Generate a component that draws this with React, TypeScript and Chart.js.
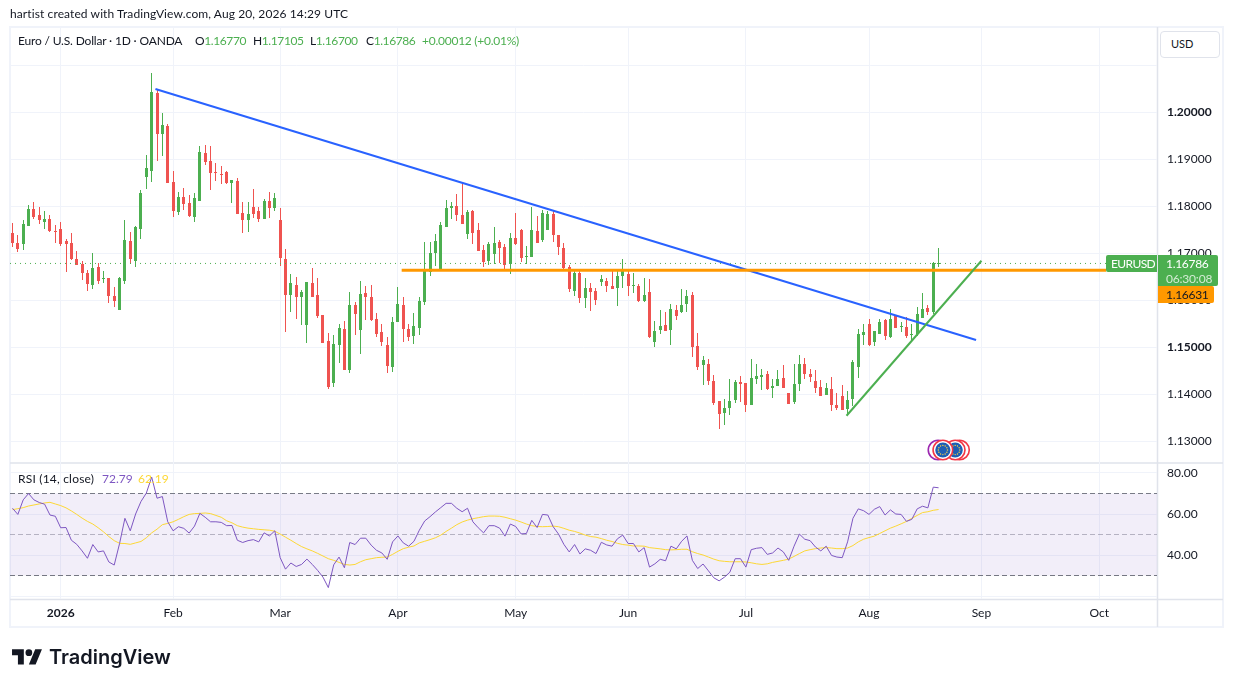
import React, { useEffect, useRef } from "react";
import { Chart, registerables } from "chart.js";

Chart.register(...registerables);

const opens = [
  1.17425,1.17213,1.17191,1.17574,1.17936,1.17808,1.17659,1.17723,1.17468,1.17511,
  1.17255,1.17213,1.16872,1.16766,1.16574,1.16319,1.16702,1.16447,1.16468,1.16085,
  1.15787,1.16404,1.17255,1.1683,1.17511,1.18617,1.18745,1.20404,1.19532,1.19702,
  1.18511,1.17872,1.18191,1.18064,1.17766,1.18106,1.19128,1.18957,1.18723,1.18681,
  1.18723,1.18489,1.18532,1.17851,1.17702,1.17979,1.17894,1.17723,1.18106,1.17957,
  1.17702,1.16872,1.16106,1.16319,1.16064,1.15468,1.16362,1.16106,1.15681,1.15128,
  1.14234,1.15043,1.15383,1.14511,1.15894,1.15362,1.16149,1.16064,1.15596,1.15319,
  1.15043,1.14574,1.15532,1.15894,1.15383,1.15234,1.15404,1.15957,1.16596,1.17,
  1.16638,1.17553,1.17957,1.18,1.17808,1.17404,1.17894,1.17489,1.17064,1.1683,
  1.16979,1.17234,1.17128,1.16766,1.17319,1.17489,1.16915,1.16915,1.17468,1.17277,
  1.17489,1.1783,1.17383,1.17106,1.16702,1.16191,1.16574,1.16043,1.16255,1.16191,
  1.16383,1.16404,1.16298,1.16255,1.16511,1.16553,1.16298,1.16298,1.15979,1.1617,
  1.15106,1.15362,1.15468,1.15362,1.15787,1.15745,1.15915,1.16106,1.15021,1.14617,
  1.14638,1.14277,1.13851,1.13596,1.13702,1.13872,1.14255,1.14234,1.13766,1.14319,
  1.14362,1.14426,1.14128,1.1417,1.1434,1.14021,1.1383,1.14213,1.14638,1.14426,
  1.14277,1.14149,1.13979,1.14106,1.13766,1.13957,1.13681,1.13894,1.14574,1.15255,
  1.15489,1.15106,1.15277,1.15574,1.15213,1.15681,1.15426,1.15426,1.15255,1.15277,
  1.15617,1.1583,1.15745,1.1677,
];
const highs = [
  1.17638,1.17383,1.17702,1.18021,1.18085,1.17979,1.17894,1.17808,1.17596,1.17659,
  1.17298,1.17425,1.17042,1.1683,1.16638,1.17,1.16787,1.16617,1.16468,1.16277,
  1.16489,1.17702,1.17447,1.17574,1.1834,1.19085,1.2083,1.20489,1.19979,1.19745,
  1.18745,1.18298,1.18383,1.18234,1.18277,1.19276,1.19298,1.19276,1.18915,1.18851,
  1.18745,1.18553,1.18596,1.18085,1.18085,1.18362,1.17979,1.18149,1.18298,1.18277,
  1.17957,1.17085,1.16553,1.16489,1.16213,1.16383,1.16681,1.16468,1.15681,1.15298,
  1.15255,1.15489,1.15553,1.1617,1.15957,1.16404,1.16298,1.16319,1.15723,1.15489,
  1.15213,1.15638,1.16277,1.16064,1.15489,1.15723,1.16064,1.17234,1.17234,1.17404,
  1.17659,1.18128,1.18085,1.18255,1.18489,1.17915,1.17915,1.17638,1.1717,1.17234,
  1.17553,1.17277,1.17191,1.17425,1.17851,1.17511,1.17149,1.17979,1.17787,1.17915,
  1.17894,1.17894,1.17383,1.17213,1.16745,1.16617,1.16617,1.16468,1.16362,1.16255,
  1.16532,1.16468,1.16617,1.16617,1.16872,1.1666,1.16574,1.1634,1.16468,1.16447,
  1.15553,1.15787,1.15745,1.15915,1.15894,1.16234,1.16213,1.1617,1.15298,1.14809,
  1.14745,1.14404,1.13851,1.13894,1.14319,1.14298,1.14383,1.14234,1.14745,1.14638,
  1.14532,1.14489,1.14319,1.14511,1.14617,1.14021,1.14638,1.1483,1.14766,1.14532,
  1.14511,1.14298,1.14234,1.14362,1.14021,1.14191,1.14064,1.14723,1.15383,1.15489,
  1.15596,1.1534,1.15596,1.15596,1.15809,1.15681,1.15532,1.15638,1.15489,1.15851,
  1.16149,1.15894,1.16808,1.17105,
];
const lows = [
  1.17135,1.17028,1.17064,1.17574,1.17723,1.17617,1.17511,1.17447,1.17213,1.17149,
  1.16596,1.16851,1.16745,1.16425,1.16191,1.16234,1.1634,1.16362,1.15936,1.15851,
  1.15787,1.1634,1.16766,1.16702,1.17298,1.18362,1.18511,1.18957,1.19064,1.18489,
  1.17766,1.17808,1.17915,1.17766,1.17659,1.18106,1.18872,1.1834,1.18532,1.18468,
  1.18468,1.18064,1.1783,1.17425,1.17447,1.17745,1.17659,1.17723,1.17745,1.17894,
  1.16723,1.15319,1.15745,1.15596,1.15468,1.15085,1.16064,1.15617,1.15085,1.14106,
  1.14149,1.1466,1.14511,1.14447,1.15255,1.14851,1.15574,1.15553,1.15213,1.15021,
  1.14447,1.14468,1.15532,1.15106,1.15128,1.15064,1.15255,1.15894,1.16511,1.16723,
  1.16638,1.17553,1.17723,1.17681,1.17617,1.17298,1.17191,1.17042,1.16702,1.16745,
  1.16766,1.16787,1.16617,1.16553,1.1717,1.16808,1.16766,1.16915,1.17213,1.17234,
  1.17489,1.17234,1.16957,1.1666,1.1617,1.16085,1.15936,1.1583,1.15766,1.15894,
  1.16298,1.1617,1.16234,1.15872,1.16255,1.16085,1.16149,1.15957,1.15957,1.15191,
  1.15,1.15277,1.1534,1.15043,1.15574,1.15723,1.15745,1.14787,1.14511,1.14191,
  1.14191,1.13766,1.13255,1.1334,1.13553,1.13809,1.1383,1.13617,1.13766,1.14213,
  1.14085,1.14085,1.13915,1.1417,1.14128,1.13787,1.13787,1.14064,1.14319,1.14255,
  1.14021,1.13957,1.13979,1.13638,1.1366,1.1366,1.13553,1.13745,1.1434,1.15043,
  1.15021,1.15021,1.15277,1.15149,1.15191,1.15404,1.15319,1.15191,1.15128,1.15234,
  1.15617,1.15681,1.15702,1.167,
];
const closes = [
  1.1722,1.17085,1.17617,1.17936,1.17766,1.17702,1.17723,1.17468,1.17447,1.17191,
  1.17191,1.16872,1.16745,1.16574,1.1634,1.16681,1.16404,1.16468,1.16085,1.15979,
  1.16468,1.17277,1.16872,1.17553,1.18277,1.18808,1.20425,1.19532,1.19723,1.18489,
  1.17894,1.18191,1.18042,1.17787,1.1817,1.19149,1.18936,1.18702,1.18702,1.18659,
  1.18489,1.18553,1.1783,1.17702,1.1783,1.1783,1.17723,1.18106,1.17957,1.1817,
  1.16894,1.16106,1.16362,1.16064,1.1617,1.16383,1.16064,1.1566,1.15085,1.14149,
  1.15064,1.15404,1.14511,1.15894,1.15702,1.16128,1.16064,1.15574,1.15277,1.15106,
  1.14596,1.15532,1.15915,1.15383,1.15213,1.15447,1.15979,1.16638,1.17,1.17255,
  1.17596,1.17957,1.18,1.17808,1.17617,1.17872,1.17425,1.17042,1.16808,1.17191,
  1.17213,1.17106,1.16745,1.17319,1.17191,1.16894,1.16936,1.17489,1.17213,1.17851,
  1.1783,1.17383,1.17128,1.16681,1.16234,1.16574,1.16043,1.16255,1.1617,1.16,
  1.16447,1.16298,1.16234,1.16511,1.16638,1.16298,1.16319,1.15979,1.16106,1.15213,
  1.1534,1.15447,1.1534,1.15809,1.1566,1.15894,1.16085,1.15,1.14574,1.14723,
  1.14277,1.13809,1.13574,1.13702,1.13851,1.14255,1.14213,1.13766,1.1434,1.14383,
  1.14404,1.14106,1.1417,1.14319,1.14128,1.13787,1.14213,1.14638,1.14426,1.14362,
  1.14128,1.13957,1.14128,1.13766,1.13702,1.1366,1.13872,1.14681,1.15277,1.15319,
  1.15043,1.1534,1.15532,1.15234,1.15596,1.15404,1.15447,1.15234,1.15277,1.15702,
  1.15809,1.15745,1.16787,1.16786,
];
const rsiValues = [
  62.8,59.8,66.9,70.0,66.9,65.6,64.8,59.5,58.9,53.3,
  53.4,47.2,45.2,42.0,38.4,45.1,41.5,42.0,36.6,35.1,
  45.6,57.9,51.8,60.0,66.1,70.2,78.0,67.7,68.5,56.2,
  51.8,53.8,53.0,50.7,54.1,60.3,58.4,56.2,56.2,55.9,
  54.3,54.4,47.2,46.1,47.0,47.5,46.4,50.8,49.3,51.8,
  38.7,33.1,36.1,34.4,35.4,38.0,35.4,32.5,29.2,24.1,
  35.2,39.0,33.8,46.1,45.1,48.2,48.2,44.8,42.3,41.0,
  37.9,46.4,49.3,45.9,44.3,46.7,52.1,56.6,58.7,61.0,
  63.1,65.2,65.2,62.8,61.1,62.8,56.2,53.3,50.8,54.3,
  54.3,53.1,49.2,55.1,53.9,50.3,50.5,56.9,53.4,59.8,
  59.5,53.8,50.2,45.2,41.5,45.1,40.5,43.0,42.3,40.7,
  46.2,44.9,44.3,47.9,49.7,45.6,45.6,41.5,43.6,34.1,
  35.7,37.9,37.2,44.3,43.0,46.7,49.3,37.4,33.4,35.6,
  32.3,28.9,27.4,29.2,31.6,38.2,38.2,34.1,42.6,43.3,
  43.6,40.3,41.0,43.4,41.5,37.4,44.3,50.2,47.7,47.0,
  43.9,42.0,44.3,39.8,39.0,38.7,46.4,57.9,62.5,61.6,
  59.8,62.3,63.6,59.5,62.0,60.0,59.8,56.4,57.4,62.5,
  63.8,63.0,73.1,72.79,
];
const rsiMa = [
  62.1,62.6,63.1,63.9,64.4,64.9,65.4,65.7,64.9,64.1,
  63.0,61.5,59.8,58.0,56.4,55.1,53.3,51.3,49.0,47.0,
  45.7,45.6,45.2,45.9,46.6,48.4,50.8,52.6,54.8,55.4,
  56.2,57.4,58.7,59.8,60.2,60.3,60.5,60.2,59.3,58.4,
  56.7,55.7,54.3,53.6,53.1,52.8,52.5,52.3,52.1,51.6,
  50.2,48.7,47.2,45.6,44.1,43.0,42.0,40.8,39.5,38.2,
  37.4,36.4,35.4,35.1,35.4,36.7,37.7,38.2,38.7,38.9,
  39.0,40.3,41.8,43.1,43.8,44.4,45.9,46.7,47.5,48.4,
  49.7,51.5,53.1,54.8,56.1,57.0,57.7,58.2,58.7,59.0,
  59.0,58.9,58.4,57.7,57.0,56.1,55.1,54.3,53.9,53.8,
  53.9,54.1,53.8,53.0,52.1,51.5,50.7,49.7,49.0,48.7,
  48.0,47.2,46.6,45.7,45.1,44.8,44.4,44.4,44.3,43.6,
  43.3,43.0,42.6,42.5,42.6,42.8,42.8,41.6,40.7,40.0,
  39.0,38.0,37.2,36.9,36.7,36.7,36.7,36.6,36.2,35.7,
  35.4,35.7,36.4,36.9,37.4,38.0,39.3,40.7,42.0,42.6,
  43.1,43.4,43.6,43.4,43.1,43.1,43.4,44.6,46.4,47.7,
  48.5,49.2,50.5,51.8,53.1,54.1,55.2,56.4,57.9,59.3,
  60.7,61.1,61.8,62.19,
];

const priceTicks = [1.21, 1.2, 1.19, 1.18, 1.17, 1.16, 1.15, 1.14, 1.13];
const hiddenPriceTicks = [1.21];
const boldPriceTicks = [1.2, 1.15];
const rsiTicks = [80, 60, 40, 20];
const hiddenRsiTicks = [20];
const monthTickIdx = [9, 30, 50, 72, 94, 115, 137, 160, 181, 203];
const monthTickLabels = ["2026", "Feb", "Mar", "Apr", "May", "Jun", "Jul", "Aug", "Sep", "Oct"];

const xMin = -0.467;
const xMax = 213.8;
const priceMin = 1.12532;
const priceMax = 1.21809;
const rsiMin = 18.537;
const rsiMax = 84.878;

const blueTrendX = [26.7, 180];
const blueTrendY = [1.2049, 1.1515];
const greenTrendX = [155.8, 181];
const greenTrendY = [1.13538, 1.16836];
const supportX = [72.7, 204.3];
const supportY = [1.16631, 1.16631];
const lastPriceX = [xMin, 204.3];
const lastPriceY = [1.16778, 1.16778];

const upColor = "#4CAF50";
const downColor = "#EF5350";
const font = 'Lato, "Noto Sans", sans-serif';
const eventIdx = [176.9, 176.1, 172.9, 173.8];

const pts = (xs: number[], ys: number[]) => xs.map((x, i) => ({ x, y: ys[i] }));

const snapPlugin = {
  id: "snap",
  afterDatasetsUpdate(chart: any) {
    chart.data.datasets.forEach((ds: any, di: number) => {
      if (ds.type !== "bar") return;
      chart.getDatasetMeta(di).data.forEach((el: any) => {
        el.x = Math.floor(el.x) + 0.5;
        const top = Math.round(Math.min(el.y, el.base));
        let bot = Math.round(Math.max(el.y, el.base));
        if (bot <= top) bot = top + 1;
        el.y = top;
        el.base = bot;
      });
    });
  },
};

const framePlugin = {
  id: "frame",
  beforeDraw(chart: any) {
    const { ctx, chartArea, scales } = chart;
    const W = 1223;
    const B = 627;
    ctx.save();
    ctx.fillStyle = "#ffffff";
    ctx.fillRect(0, 0, chart.width, chart.height);
    ctx.strokeStyle = "#F0F3FA";
    ctx.lineWidth = 2;
    ctx.strokeRect(chartArea.left, chartArea.top, W - chartArea.left, B - chartArea.top);
    ctx.strokeStyle = "#E0E3EB";
    ctx.lineWidth = 1.5;
    ctx.beginPath();
    ctx.moveTo(chartArea.right + 0.5, chartArea.top);
    ctx.lineTo(chartArea.right + 0.5, B);
    ctx.moveTo(chartArea.left, scales.y.bottom);
    ctx.lineTo(W, scales.y.bottom);
    ctx.moveTo(chartArea.left, chartArea.bottom + 0.5);
    ctx.lineTo(W, chartArea.bottom + 0.5);
    ctx.stroke();
    ctx.restore();
  },
};

const eventPlugin = {
  id: "events",
  afterDatasetsDraw(chart: any) {
    const { ctx, scales } = chart;
    const cy = scales.y.bottom - 13;
    eventIdx.forEach((idx, k) => {
      const cx = scales.x.getPixelForValue(idx);
      ctx.save();
      ctx.beginPath();
      ctx.arc(cx, cy, 9.8, 0, Math.PI * 2);
      ctx.fillStyle = "#ffffff";
      ctx.fill();
      ctx.lineWidth = 1.6;
      ctx.strokeStyle = k === 2 ? "#9C27B0" : "#F23645";
      ctx.stroke();
      if (k === 1 || k === 3) {
        ctx.beginPath();
        ctx.arc(cx, cy, 7.6, 0, Math.PI * 2);
        ctx.fillStyle = "#1E5FB4";
        ctx.fill();
        ctx.fillStyle = "#FFD23F";
        for (let a = 0; a < 12; a++) {
          ctx.beginPath();
          ctx.arc(cx + 4.6 * Math.cos((a * Math.PI) / 6), cy + 4.6 * Math.sin((a * Math.PI) / 6), 0.7, 0, Math.PI * 2);
          ctx.fill();
        }
      }
      ctx.restore();
    });
  },
};

const lineBase = { type: "line", pointRadius: 0, xAxisID: "x", fill: false, tension: 0 };

function T(props: { x: number; y: number; c?: string; s?: number; w?: number; f?: string; o?: number; l?: number; children: any }) {
  return (
    <div
      style={{
        position: "absolute",
        left: props.x,
        top: props.y,
        color: props.c ?? "#131722",
        fontSize: props.s ?? 12,
        fontWeight: props.w ?? 400,
        fontFamily: props.f ?? font,
        opacity: props.o ?? 1,
        letterSpacing: props.l ?? 0,
        lineHeight: "16px",
        whiteSpace: "pre",
      }}
    >
      {props.children}
    </div>
  );
}

function Box(props: { x: number; y: number; w: number; h: number; c: string; r?: string }) {
  return (
    <div
      style={{
        position: "absolute",
        left: props.x,
        top: props.y,
        width: props.w,
        height: props.h,
        background: props.c,
        borderRadius: props.r ?? "0",
      }}
    />
  );
}

export default function App() {
  const ref = useRef<HTMLCanvasElement | null>(null);

  useEffect(() => {
    const idx = opens.map((_, i) => i);
    const colors = opens.map((o, i) => (closes[i] >= o ? upColor : downColor));
    const chart = new Chart(ref.current as HTMLCanvasElement, {
      type: "bar",
      plugins: [framePlugin, snapPlugin, eventPlugin],
      data: {
        labels: idx,
        datasets: [
          { ...lineBase, label: "Uptrend", data: pts(greenTrendX, greenTrendY), yAxisID: "y", borderColor: upColor, borderWidth: 2 },
          { ...lineBase, label: "Support", data: pts(supportX, supportY), yAxisID: "y", borderColor: "#FF9800", borderWidth: 3 },
          { ...lineBase, label: "Downtrend", data: pts(blueTrendX, blueTrendY), yAxisID: "y", borderColor: "#2962FF", borderWidth: 2 },
          { ...lineBase, label: "Last", data: pts(lastPriceX, lastPriceY), yAxisID: "y", borderColor: upColor, borderWidth: 1, borderDash: [1, 4] },
          {
            type: "bar", label: "Body", data: opens.map((o, i) => [o, closes[i]]), yAxisID: "y", xAxisID: "x",
            backgroundColor: colors, barThickness: 3, grouped: false, inflateAmount: 0, borderWidth: 0,
          },
          {
            type: "bar", label: "Wick", data: lows.map((l, i) => [l, highs[i]]), yAxisID: "y", xAxisID: "x",
            backgroundColor: colors, barThickness: 1, grouped: false, inflateAmount: 0, borderWidth: 0,
          },
          { ...lineBase, label: "RSI", data: rsiValues, yAxisID: "rsi", borderColor: "#7E57C2", borderWidth: 1 },
          { ...lineBase, label: "RSI MA", data: rsiMa, yAxisID: "rsi", borderColor: "#FDD835", borderWidth: 1 },
          {
            ...lineBase, label: "70", data: pts([xMin, xMax], [70, 70]), yAxisID: "rsi", borderColor: "#787B86", borderWidth: 1,
            borderDash: [5, 3], fill: { target: { value: 30 }, above: "rgba(126,87,194,0.1)" },
          },
          { ...lineBase, label: "50", data: pts([xMin, xMax], [50, 50]), yAxisID: "rsi", borderColor: "rgba(120,123,134,0.5)", borderWidth: 1, borderDash: [5, 3] },
          { ...lineBase, label: "30", data: pts([xMin, xMax], [30, 30]), yAxisID: "rsi", borderColor: "#787B86", borderWidth: 1, borderDash: [5, 3] },
        ] as any,
      },
      options: {
        animation: false,
        responsive: false,
        layout: { padding: { left: 10, top: 27, right: 0, bottom: 0 } },
        plugins: { legend: { display: false }, tooltip: { enabled: false } },
        scales: {
          x: {
            type: "linear",
            position: "bottom",
            min: xMin,
            max: xMax,
            offset: false,
            afterBuildTicks: (s: any) => {
              s.ticks = monthTickIdx.map((value) => ({ value }));
            },
            afterFit: (s: any) => {
              s.height = 88;
            },
            grid: { offset: false, color: "#F0F3FA", drawTicks: false },
            border: { display: false },
            ticks: {
              autoSkip: false,
              maxRotation: 0,
              padding: 7,
              color: "#131722",
              font: (c: any) => ({ family: font, size: 12, weight: c.tick && c.tick.value === 9 ? "700" : "400" }),
              callback: (v: any) => monthTickLabels[monthTickIdx.indexOf(v)],
            },
          },
          y: {
            type: "linear",
            position: "right",
            stack: "panes",
            stackWeight: 436,
            min: priceMin,
            max: priceMax,
            beginAtZero: false,
            afterBuildTicks: (s: any) => {
              s.ticks = priceTicks.map((value) => ({ value }));
            },
            afterFit: (s: any) => {
              s.width = 76;
            },
            grid: { color: "#F0F3FA", drawTicks: false },
            border: { display: false },
            ticks: {
              autoSkip: false,
              padding: 10,
              crossAlign: "near",
              color: "#131722",
              font: (c: any) => ({ family: font, size: 12, weight: c.tick && boldPriceTicks.includes(c.tick.value) ? "700" : "400" }),
              callback: (v: any) => (hiddenPriceTicks.includes(v) ? "" : Number(v).toFixed(5)),
            },
          },
          rsi: {
            type: "linear",
            position: "right",
            stack: "panes",
            stackWeight: 136,
            min: rsiMin,
            max: rsiMax,
            beginAtZero: false,
            afterBuildTicks: (s: any) => {
              s.ticks = rsiTicks.map((value) => ({ value }));
            },
            afterFit: (s: any) => {
              s.width = 76;
            },
            grid: { color: "#F0F3FA", drawTicks: false },
            border: { display: false },
            ticks: {
              autoSkip: false,
              padding: 10,
              crossAlign: "near",
              color: "#131722",
              font: { family: font, size: 12 },
              callback: (v: any) => (hiddenRsiTicks.includes(v) ? "" : Number(v).toFixed(2)),
            },
          },
        },
      } as any,
    } as any);
    return () => chart.destroy();
  }, []);

  const up = "#4CAF50";
  return (
    <div style={{ position: "absolute", left: 0, top: 0, width: 1233, height: 687, overflow: "hidden", background: "#fff" }}>
      <canvas ref={ref} width={1233} height={687} style={{ display: "block", position: "absolute", left: 0, top: 0 }} />

      <T x={10} y={6} l={0.1}>hartist created with TradingView.com, Aug 20, 2026 14:29 UTC</T>

      <T x={18} y={33} l={-0.17}>Euro / U.S. Dollar · 1D · OANDA</T>
      <T x={195} y={33} l={-0.4}>O<span style={{ color: up }}>1.16770</span></T>
      <T x={253} y={33} l={-0.4}>H<span style={{ color: up }}>1.17105</span></T>
      <T x={310} y={33} l={-0.4}>L<span style={{ color: up }}>1.16700</span></T>
      <T x={366} y={33} l={-0.4}>C<span style={{ color: up }}>1.16786</span></T>
      <T x={422} y={33} c={up} l={-0.25}>+0.00012 (+0.01%)</T>

      <T x={18} y={471} l={0.2}>RSI (14, close)</T>
      <T x={102} y={471} c="#7E57C2">72.79</T>
      <T x={138} y={471} c="#FDD835">62.19</T>

      <div style={{ position: "absolute", left: 1160, top: 31, width: 58, height: 25, border: "1px solid #E0E3EB", borderRadius: 4, background: "#fff" }} />
      <T x={1171} y={36} s={11}>USD</T>

      <Box x={1106} y={255} w={51} h={17} c={up} r="2px 0 0 2px" />
      <T x={1111} y={256} c="#fff" l={-0.6}>EURUSD</T>
      <Box x={1158} y={255} w={60} h={31} c={up} r="0 2px 2px 0" />
      <T x={1166} y={256} c="#fff" l={-0.3}>1.16786</T>
      <T x={1166} y={271} c="#fff" o={0.75} l={-0.2}>06:30:08</T>
      <Box x={1158} y={286} w={56} h={17} c="#FF9800" r="0 2px 2px 0" />
      <T x={1166} y={287} c="#131722" l={-0.3}>1.16631</T>

      <svg style={{ position: "absolute", left: 12, top: 645.6 }} width={30.4} height={23.6} viewBox="0 0 36 28">
        <path fill="#131722" d="M14 22H7V11H0V4h14v18zM28 22h-8l7.5-18h8L28 22z" />
        <circle fill="#131722" cx="20" cy="8" r="4" />
      </svg>
      <div style={{ position: "absolute", left: 49, top: 644, fontFamily: "Inter, sans-serif", fontWeight: 600, fontSize: 20, lineHeight: "26px", color: "#131722", whiteSpace: "pre" }}>TradingView</div>
    </div>
  );
}
